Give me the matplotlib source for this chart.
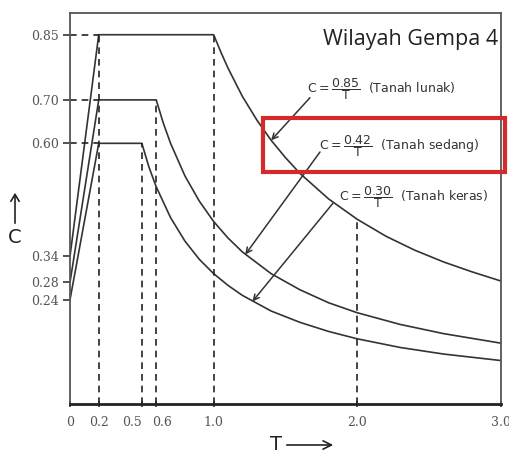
import matplotlib
matplotlib.use("Agg")
import matplotlib.pyplot as plt
from matplotlib.patches import Rectangle, FancyArrowPatch
from matplotlib.transforms import offset_copy

# tick values
T_ticks = [0, 0.2, 0.5, 0.6, 1.0, 2.0, 3.0]
T_labels = ["0", "0.2", "0.5", "0.6", "1.0", "2.0", "3.0"]
C_ticks = [0.24, 0.28, 0.34, 0.60, 0.70, 0.85]

# spectrum curves (T, C)
T_lunak = [0, 0.2, 1.0, 1.05, 1.1, 1.2, 1.3, 1.4, 1.5, 1.6, 1.8, 2.0, 2.2, 2.4, 2.6, 2.8, 3.0]
C_lunak = [0.34, 0.85, 0.85, 0.81, 0.773, 0.708, 0.654, 0.607, 0.567, 0.531, 0.472, 0.425,
           0.386, 0.354, 0.327, 0.304, 0.283]
T_sedang = [0, 0.2, 0.6, 0.65, 0.7, 0.8, 0.9, 1.0, 1.1, 1.2, 1.4, 1.6, 1.8, 2.0, 2.3, 2.6, 3.0]
C_sedang = [0.28, 0.70, 0.70, 0.646, 0.60, 0.525, 0.467, 0.42, 0.382, 0.35, 0.30, 0.263,
            0.233, 0.21, 0.183, 0.162, 0.14]
T_keras = [0, 0.2, 0.5, 0.55, 0.6, 0.7, 0.8, 0.9, 1.0, 1.1, 1.2, 1.4, 1.6, 1.8, 2.0, 2.3, 2.6, 3.0]
C_keras = [0.24, 0.60, 0.60, 0.545, 0.50, 0.429, 0.375, 0.333, 0.30, 0.273, 0.25, 0.214,
           0.188, 0.167, 0.15, 0.13, 0.115, 0.10]

# guide lines
vlines_T = [0.2, 0.5, 0.6, 1.0, 2.0]
vlines_top = [0.85, 0.60, 0.70, 0.85, 0.425]
hlines_C = [0.85, 0.70, 0.60]

# formula labels
formulas = [r"$\mathrm{C} = \dfrac{0.85}{\mathrm{T}}$", r"$\mathrm{C} = \dfrac{0.42}{\mathrm{T}}$",
            r"$\mathrm{C} = \dfrac{0.30}{\mathrm{T}}$"]
soil_names = ["(Tanah lunak)", "(Tanah sedang)", "(Tanah keras)"]

lc = "#333333"
tick_font = dict(family="DejaVu Serif", fontsize=9, color="#555555")
fig = plt.figure(figsize=(5.1, 4.54), dpi=100)
ax = fig.add_axes([70 / 510, 1 - 404 / 454, 431 / 510, 391 / 454])

for T, C in [(T_lunak, C_lunak), (T_sedang, C_sedang), (T_keras, C_keras)]:
    ax.plot(T, C, color=lc, lw=1.2, solid_joinstyle="round")

for t, top in zip(vlines_T, vlines_top):
    ax.plot([t, t], [0, top], color="#222222", lw=1.2, ls=(0, (4, 3)))
for c in hlines_C:
    ax.plot([0, 0.2], [c, c], color="#222222", lw=1.2, ls=(0, (4, 3)))

ax.set_xlim(0, 3.0)
ax.set_ylim(0, 0.9)
ax.set_xticks(T_ticks)
# 0.5 and 0.6 sit close together, so those two are placed by hand beside their ticks
ax.set_xticklabels([lab if t not in (0.5, 0.6) else "" for t, lab in zip(T_ticks, T_labels)])
ax.set_yticks(C_ticks)
ax.set_yticklabels([f"{c:.2f}" for c in C_ticks])
for lab in ax.get_xticklabels() + ax.get_yticklabels():
    lab.set_family(tick_font["family"])
    lab.set_fontsize(tick_font["fontsize"])
    lab.set_color(tick_font["color"])
xtr = ax.get_xaxis_transform()
ax.text(0.5, 0, "0.5", ha="right", va="top", **tick_font,
        transform=offset_copy(xtr, fig=fig, x=0, y=-8.5, units="points"))
ax.text(0.6, 0, "0.6", ha="left", va="top", **tick_font,
        transform=offset_copy(xtr, fig=fig, x=-3, y=-8.5, units="points"))

ax.tick_params(axis="y", direction="out", length=5, width=1.2, color=lc, pad=3)
ax.tick_params(axis="x", direction="inout", length=5, width=1.2, color=lc, pad=6)
for side in ["left", "right", "top"]:
    ax.spines[side].set_color("#555555")
    ax.spines[side].set_linewidth(1.3)
ax.spines["bottom"].set_color("#222222")
ax.spines["bottom"].set_linewidth(2)

ax.text(2.98, 0.84, "Wilayah Gempa 4", ha="right", va="center", fontsize=15.5,
        family="Open Sans", color="#222222")

# formula annotations
label_pos = [(1.65, 0.726), (1.73, 0.593), (1.87, 0.476)]
arrow_start = [(1.67, 0.705), (1.74, 0.58), (1.83, 0.462)]
arrow_end = [(1.40, 0.607), (1.22, 0.344), (1.27, 0.236)]
for f, name, (x, y), s, e in zip(formulas, soil_names, label_pos, arrow_start, arrow_end):
    ax.text(x, y, f + "  " + name, ha="left", va="center", fontsize=9, color="#333333")
    ax.annotate("", xy=e, xytext=s,
                arrowprops=dict(arrowstyle="->", color=lc, lw=1.1, shrinkA=0, shrinkB=0))

# red highlight box
ax.add_patch(Rectangle((1.34, 0.535), 1.69, 0.123, fill=False, edgecolor="#d42a2a",
                       lw=3, clip_on=False, zorder=5))

# axis labels with arrows
fig.text(15 / 510, 1 - 238 / 454, "C", ha="center", va="center", fontsize=14, color="#222222")
fig.patches.append(FancyArrowPatch(
    (15 / 510, 1 - 226 / 454), (15 / 510, 1 - 190 / 454), transform=fig.transFigure,
    arrowstyle="->,head_width=3,head_length=5", color="#222222", lw=1.2, mutation_scale=1))
fig.text(276 / 510, 1 - 445 / 454, "T", ha="center", va="center", fontsize=14, color="#222222")
fig.patches.append(FancyArrowPatch(
    (284 / 510, 1 - 445 / 454), (336 / 510, 1 - 445 / 454), transform=fig.transFigure,
    arrowstyle="->,head_width=3,head_length=6", color="#222222", lw=1.2, mutation_scale=1))

plt.savefig("out.png", dpi=100)
